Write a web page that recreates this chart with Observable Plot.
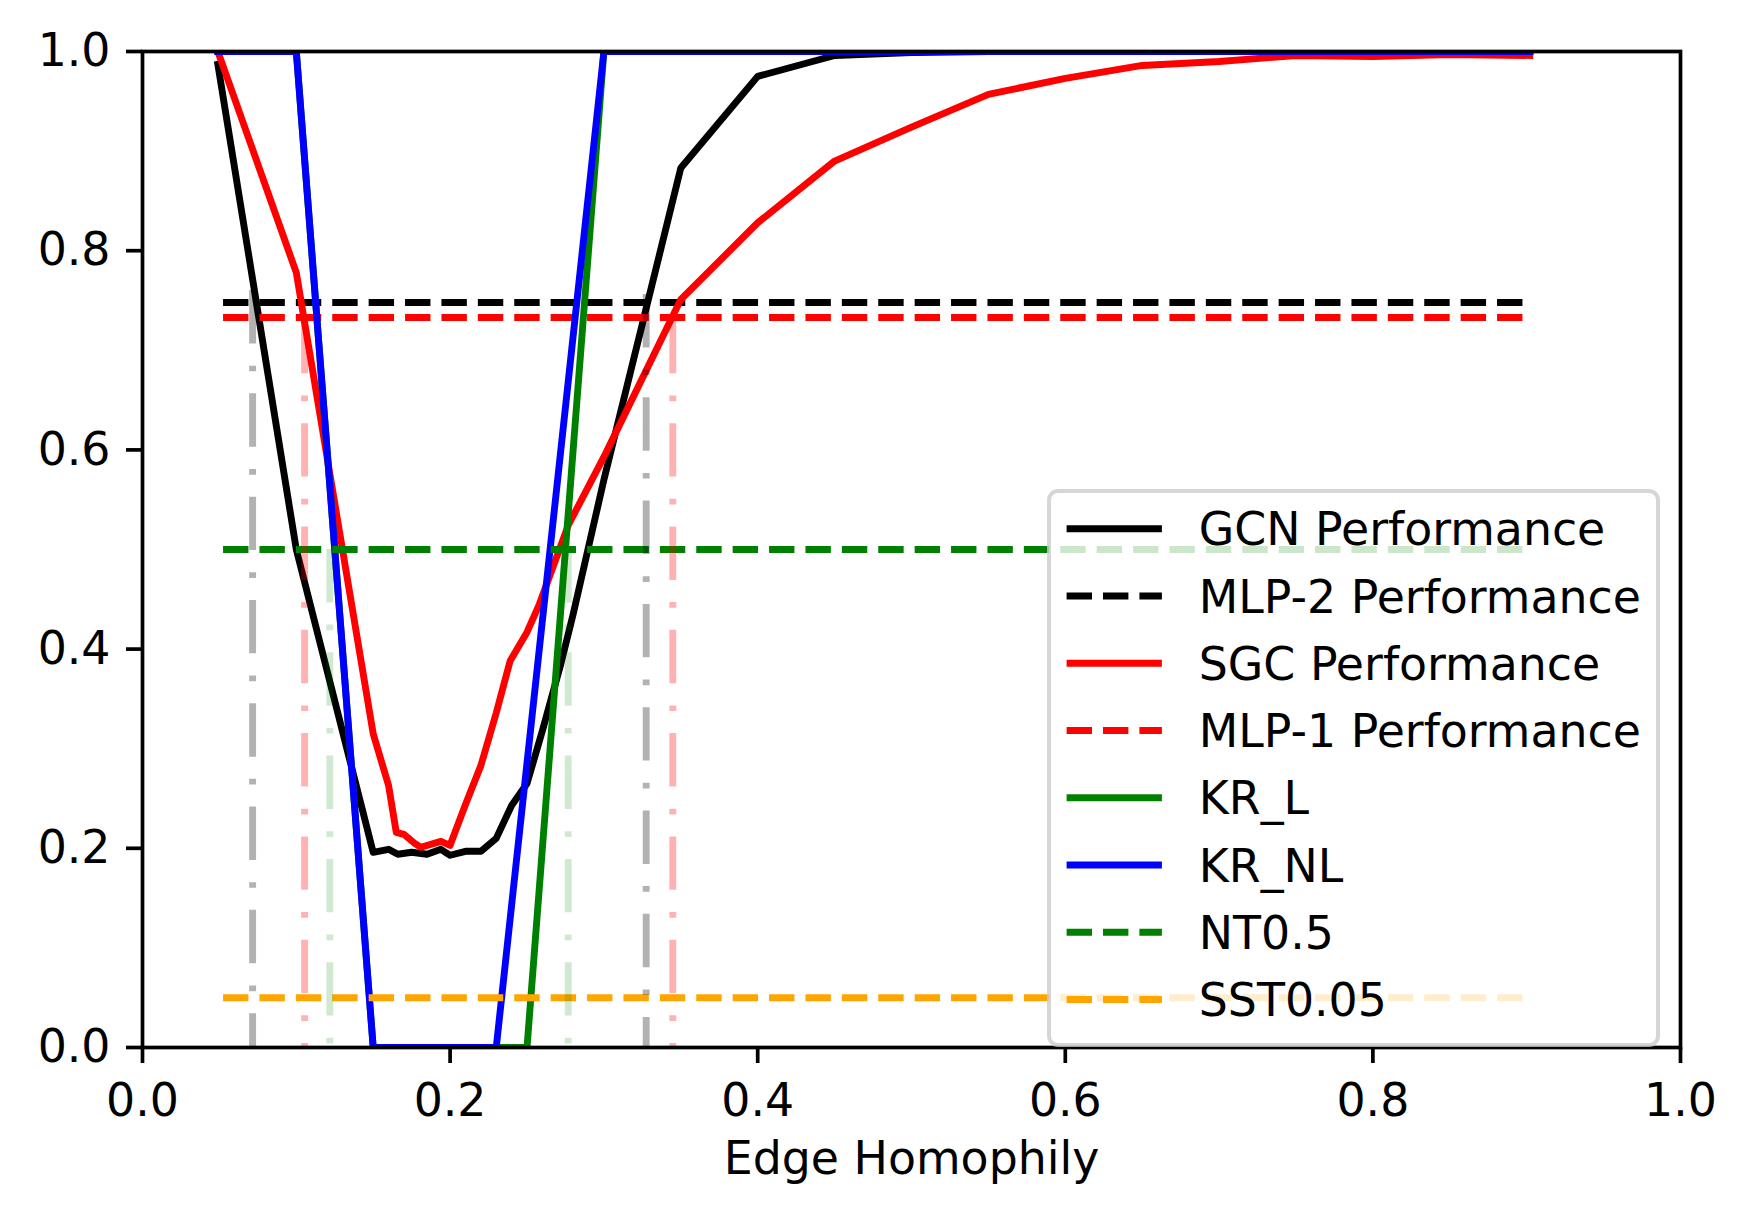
<!DOCTYPE html>
<html>
<head>
<meta charset="utf-8">
<script src="https://cdn.jsdelivr.net/npm/d3@7"></script>
<script src="https://cdn.jsdelivr.net/npm/@observablehq/plot@0.6"></script>
<style>
  html, body { margin: 0; padding: 0; background: #ffffff; }
  #chart { width: 1750px; height: 1219px; }
</style>
</head>
<body>
<div id="chart"></div>
<script>
// ---------------- data ----------------
const gcnX = [0.049, 0.1, 0.15, 0.16, 0.166, 0.175, 0.185, 0.194, 0.2, 0.21, 0.22, 0.23, 0.24, 0.25, 0.26, 0.272, 0.28, 0.3, 0.35, 0.4, 0.45, 0.5, 0.55, 0.6, 0.65, 0.7, 0.75, 0.8, 0.85, 0.902];
const gcnY = [0.987, 0.5, 0.196, 0.199, 0.194, 0.196, 0.194, 0.199, 0.193, 0.197, 0.197, 0.21, 0.243, 0.265, 0.318, 0.385, 0.435, 0.57, 0.883, 0.975, 0.996, 0.999, 1, 1, 1, 1, 1, 1, 1, 1];

const sgcX = [0.049, 0.1, 0.15, 0.16, 0.165, 0.17, 0.177, 0.181, 0.194, 0.2, 0.21, 0.22, 0.23, 0.239, 0.25, 0.258, 0.277, 0.301, 0.35, 0.4, 0.45, 0.5, 0.55, 0.6, 0.65, 0.7, 0.75, 0.8, 0.85, 0.902];
const sgcY = [1.0, 0.778, 0.315, 0.263, 0.216, 0.214, 0.205, 0.201, 0.207, 0.203, 0.244, 0.283, 0.336, 0.388, 0.417, 0.445, 0.525, 0.596, 0.751, 0.828, 0.890, 0.924, 0.957, 0.973, 0.986, 0.99, 0.996, 0.995, 0.997, 0.996];

const krlX = [0.049, 0.1, 0.15, 0.2, 0.23, 0.25, 0.3, 0.35, 0.4, 0.45, 0.5, 0.55, 0.6, 0.65, 0.7, 0.75, 0.8, 0.85, 0.902];
const krlY = [1, 1, 0, 0, 0, 0, 1, 1, 1, 1, 1, 1, 1, 1, 1, 1, 1, 1, 1];

const krnlX = [0.049, 0.1, 0.15, 0.2, 0.23, 0.3, 0.35, 0.4, 0.45, 0.5, 0.55, 0.6, 0.65, 0.7, 0.75, 0.8, 0.85, 0.902];
const krnlY = [1, 1, 0, 0, 0, 1, 1, 1, 1, 1, 1, 1, 1, 1, 1, 1, 1, 1];

// horizontal reference lines: MLP-2, MLP-1, NT0.5, SST0.05
const hlineValues = [0.748, 0.733, 0.5, 0.05];
const hlineSpan = [0.0527, 0.9027];

// vertical crossing markers (gray: GCN/MLP-2, pink: SGC/MLP-1, green: KR/NT0.5)
const vlineX   = [0.0716, 0.3275, 0.1054, 0.3448, 0.1218, 0.2768];
const vlineTop = [0.760, 0.756, 0.730, 0.730, 0.5, 0.5];
const vlineGroup = ["gcn", "gcn", "sgc", "sgc", "kr", "kr"];

const tickValues = [0, 0.2, 0.4, 0.6, 0.8, 1.0];
const xLabel = "Edge Homophily";
const legendLabels = ["GCN Performance", "MLP-2 Performance", "SGC Performance", "MLP-1 Performance", "KR_L", "KR_NL", "NT0.5", "SST0.05"];

// ---------------- styles ----------------
const F = 45.8;
const LW = 6.9;
const DASH = "25.4,11";
const DASHDOT = "53.4,22.2,5.7,22";
const hlineColors = ["black", "red", "green", "orange"];
const vColor = {gcn: ["black", 0.3], sgc: ["red", 0.3], kr: ["green", 0.18]};
const legendStyles = [
  ["black", null], ["black", DASH], ["red", null], ["red", DASH],
  ["green", null], ["blue", null], ["green", DASH], ["orange", DASH]
];

const pts = (xs, ys) => xs.map((x, i) => ({x, y: ys[i]}));
const solid = (color) => ({x: "x", y: "y", stroke: color, strokeWidth: LW, clip: true, strokeLinejoin: "round", strokeLinecap: "square"});
const hrule = (i) => Plot.ruleY([{y: hlineValues[i], x1: hlineSpan[0], x2: hlineSpan[1]}],
  {y: "y", x1: "x1", x2: "x2", stroke: hlineColors[i], strokeWidth: LW, strokeDasharray: DASH, strokeLinecap: "butt", clip: true});

const vData = vlineX.map((x, i) => ({x, top: vlineTop[i], g: vlineGroup[i]}));

const plot = Plot.plot({
  width: 1750,
  height: 1219,
  marginLeft: 142,
  marginRight: 70,
  marginTop: 51,
  marginBottom: 172,
  style: {fontFamily: "'DejaVu Sans', sans-serif", fontSize: F + "px", background: "#ffffff", color: "black", overflow: "visible"},
  x: {domain: [0, 1], axis: null},
  y: {domain: [0, 1], axis: null},
  marks: [
    Plot.line(pts(gcnX, gcnY), solid("black")),
    hrule(0),
    Plot.line(pts(sgcX, sgcY), solid("red")),
    hrule(1),
    Plot.line(pts(krlX, krlY), solid("green")),
    Plot.line(pts(krnlX, krnlY), solid("blue")),
    hrule(2),
    hrule(3),
    ...["gcn", "sgc", "kr"].map(g => Plot.ruleX(vData.filter(d => d.g === g), {
      x: "x", y1: "top", y2: () => 0,
      stroke: vColor[g][0], strokeOpacity: vColor[g][1], strokeWidth: LW,
      strokeDasharray: DASHDOT, strokeLinecap: "butt", clip: true
    })),
    Plot.frame({stroke: "black", strokeWidth: 3.7}),
    Plot.axisX({ticks: tickValues, tickFormat: d3.format(".1f"), tickSize: 16, tickPadding: 19.5, strokeWidth: 3.7, label: null, fontSize: F}),
    Plot.axisY({ticks: tickValues, tickFormat: d3.format(".1f"), tickSize: 16, tickPadding: 16, strokeWidth: 3.7, label: null, fontSize: F}),
    Plot.text([xLabel], {frameAnchor: "bottom", dy: 126, text: d => d, fontSize: F, fill: "black"})
  ]
});

document.getElementById("chart").appendChild(plot);

// ---------------- legend (overlay inside the SVG) ----------------
const svg = d3.select(plot);
const lg = svg.append("g")
  .attr("font-family", "'DejaVu Sans', sans-serif")
  .attr("font-size", F)
  .attr("text-anchor", "start");
lg.append("rect")
  .attr("x", 1049).attr("y", 491).attr("width", 609).attr("height", 554)
  .attr("rx", 9).attr("ry", 9)
  .attr("fill", "white").attr("fill-opacity", 0.8)
  .attr("stroke", "#cccccc").attr("stroke-opacity", 0.8).attr("stroke-width", 4);
legendLabels.forEach((label, i) => {
  const cy = 528.8 + 67.25 * i;
  const [color, dash] = legendStyles[i];
  lg.append("line")
    .attr("x1", 1066.6).attr("x2", 1161.9).attr("y1", cy).attr("y2", cy)
    .attr("stroke", color).attr("stroke-width", LW)
    .attr("stroke-dasharray", dash)
    .attr("stroke-linecap", "butt");
  lg.append("text")
    .attr("x", 1198.8).attr("y", cy).attr("dy", "0.36em")
    .attr("text-anchor", "start")
    .attr("fill", "black")
    .text(label);
});
</script>
</body>
</html>
